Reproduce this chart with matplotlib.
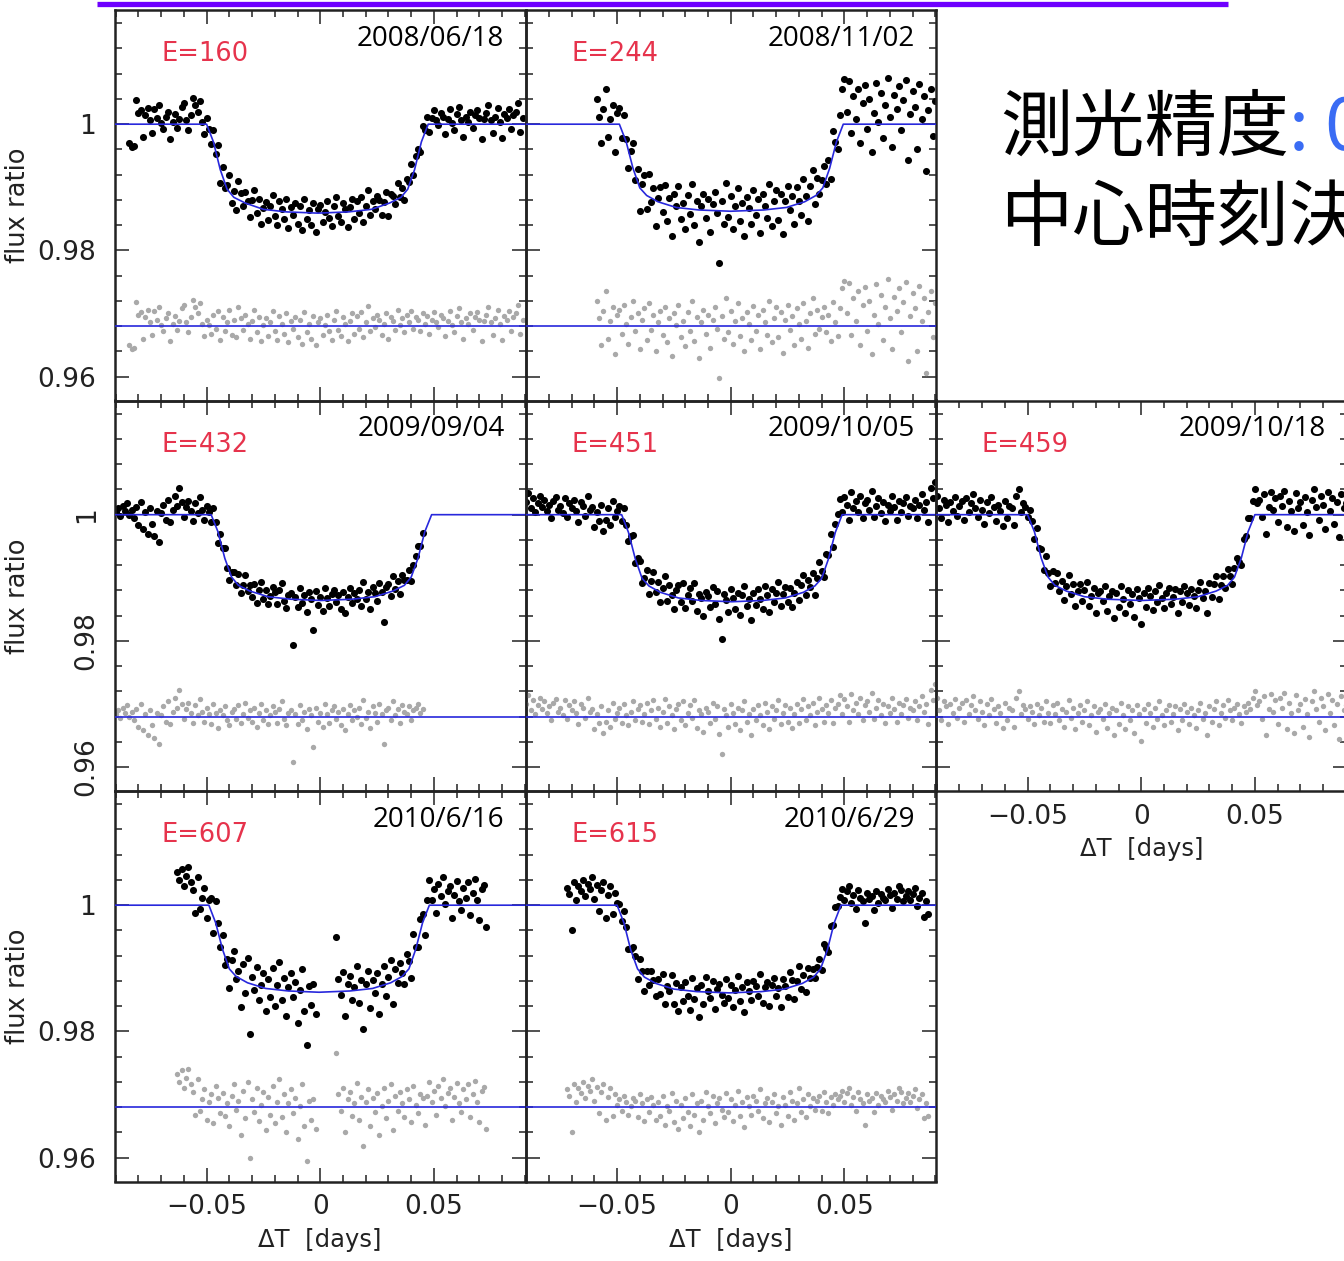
import matplotlib
matplotlib.use("Agg")
from matplotlib import pyplot as plt
from matplotlib.lines import Line2D
from matplotlib.ticker import FixedLocator, FuncFormatter, MultipleLocator
import numpy as np

plt.rcParams["font.family"] = ["DejaVu Sans"]

# Light curves: times in 1e-3 days from mid-transit, residuals in 1e-4 flux.
# The black points are model + residual, grey points are residual + 0.968.
RESID_LEVEL = 0.968

# E=160, 2008/06/18
P1_T = [-84, -83, -82, -81, -80, -79, -78, -77, -76, -75,
        -74, -73, -72, -71, -70, -69, -68, -67, -66, -65,
        -64, -63, -62, -61, -60, -59, -58, -57, -56, -55,
        -54, -53, -52, -51, -50, -49, -48, -47, -46, -45,
        -44, -43, -42, -41, -40, -39, -38, -37, -36, -35,
        -34, -33, -32, -31, -30, -29, -28, -27, -26, -25,
        -24, -23, -22, -21, -20, -19, -18, -17, -16, -15,
        -14, -13, -12, -11, -10, -9, -8, -7, -6, -5,
        -4, -3, -2, -1, 0, 1, 2, 3, 4, 5,
        6, 7, 8, 9, 10, 11, 12, 13, 14, 15,
        16, 17, 18, 19, 20, 21, 22, 23, 24, 25,
        26, 27, 28, 29, 30, 31, 32, 33, 34, 35,
        36, 37, 38, 39, 40, 41, 42, 43, 44, 45,
        46, 47, 48, 49, 50, 51, 52, 53, 54, 55,
        56, 57, 58, 59, 60, 61, 62, 63, 64, 65,
        66, 67, 68, 69, 70, 71, 72, 73, 74, 75,
        76, 77, 78, 79, 80, 81, 82, 83, 84, 85,
        86, 87, 88, 89]
P1_R = [-30, -36, -34, 38, 18, 22, -20, 14, 26, 6,
        -14, 24, 10, 30, 2, -8, 12, 20, -24, 4,
        16, -6, 8, 28, 34, 6, -10, 14, 42, 30,
        20, 36, 4, -16, 10, 2, -12, 18, -4, 24,
        -22, 14, -8, 6, 26, -14, 10, -18, 30, 12,
        -6, 18, 4, -20, 8, 26, -10, 14, -24, 2,
        12, -16, 6, 24, -8, -22, 16, 4, -12, 20,
        -26, 8, -4, 14, -18, 10, -28, 22, -10, 4,
        -20, 16, -30, 6, 12, -14, 2, 18, -8, -22,
        10, 24, -6, -16, 14, 4, -24, 8, 20, -12,
        16, -4, 22, -18, 6, 32, -8, 12, -2, 18,
        10, -14, 4, 20, -20, 14, 8, -6, 26, 2,
        12, -10, 18, 6, 24, -4, 14, 10, -8, 20,
        4, 16, -12, 10, 22, 6, -2, 18, 12, -16,
        8, 24, 2, -10, 16, 28, 6, -20, 12, 4,
        20, -6, 14, 22, 10, -24, 8, 18, 30, 6,
        -14, 12, 26, 4, -22, 16, 10, 24, -8, 14,
        20, 34, -12, 10]
P1_MT = [-91, -50, -47, -44, -41, -38, -33, -25, -15, -1,
         12.5, 22.5, 30.5, 35.5, 38.5, 41.5, 44.5, 47.5, 91]
P1_MF = [1.0, 1.0, 0.9972, 0.9928, 0.9897, 0.9884, 0.9875, 0.9865, 0.9861, 0.9859,
         0.9861, 0.9865, 0.9875, 0.9884, 0.9897, 0.9928, 0.9972, 1.0, 1.0]

# E=244, 2008/11/02
P2_T = [-59, -58, -57, -56, -55, -54, -53, -52, -51, -50,
        -49, -48, -47, -46, -45, -44, -43, -42, -41, -40,
        -39, -38, -37, -36, -35, -34, -33, -32, -31, -30,
        -29, -28, -27, -26, -25, -24, -23, -22, -21, -20,
        -19, -18, -17, -16, -15, -14, -13, -12, -11, -10,
        -9, -8, -7, -6, -5, -4, -3, -2, -1, 0,
        1, 2, 3, 4, 5, 6, 7, 8, 9, 10,
        11, 12, 13, 14, 15, 16, 17, 18, 19, 20,
        21, 22, 23, 24, 25, 26, 27, 28, 29, 30,
        31, 32, 33, 34, 35, 36, 37, 38, 39, 40,
        41, 42, 43, 44, 45, 46, 47, 48, 49, 50,
        51, 52, 53, 54, 55, 56, 57, 58, 59, 60,
        61, 62, 63, 64, 65, 66, 67, 68, 69, 70,
        71, 72, 73, 74, 75, 76, 77, 78, 79, 80,
        81, 82, 83, 84, 85, 86, 87, 88, 89, 90]
P2_R = [40, 12, -30, 24, 56, -20, 8, 30, -44, 18,
        26, -12, 34, 4, -28, 14, 40, -8, 20, -36,
        10, 28, -22, 36, -6, 18, -40, 6, 24, -14,
        30, -26, 12, -48, 20, 2, 34, -18, 8, -32,
        22, -8, 40, -24, 14, -50, 6, 26, -12, 18,
        -34, 10, 30, -4, -82, 16, -20, 44, -10, 24,
        -28, 8, 36, -16, 12, -40, 22, 4, -22, 32,
        -8, 18, -36, 26, 6, -14, 40, -26, 12, 30,
        -18, 22, -42, 10, 34, -6, 16, -30, 28, 4,
        -20, 36, 8, -34, 20, 44, -12, 26, -4, 14,
        30, -10, 18, -24, 38, 6, -16, 28, 60, 72,
        20, 68, -14, 44, 8, 56, -30, 34, 62, -8,
        40, -44, 18, 66, 4, 50, -22, 30, 74, 12,
        -36, 46, 24, 60, -10, 38, 70, -56, 16, 52,
        28, -40, 64, 8, 44, -74, 22, 56, -18, 36]
P2_MT = [-91, -49, -46, -43, -40, -37, -32, -24, -14, 0,
         14.5, 24.5, 32.5, 37.5, 40.5, 43.5, 46.5, 49.5, 91]
P2_MF = [1.0, 1.0, 0.9972, 0.9930, 0.9899, 0.9887, 0.9877, 0.9868, 0.9864, 0.9862,
         0.9864, 0.9868, 0.9877, 0.9887, 0.9899, 0.9930, 0.9972, 1.0, 1.0]

# E=432, 2009/09/04
P4_T = [-90, -89, -88, -87, -86, -85, -84, -83, -82, -81,
        -80, -79, -78, -77, -76, -75, -74, -73, -72, -71,
        -70, -69, -68, -67, -66, -65, -64, -63, -62, -61,
        -60, -59, -58, -57, -56, -55, -54, -53, -52, -51,
        -50, -49, -48, -47, -46, -45, -44, -43, -42, -41,
        -40, -39, -38, -37, -36, -35, -34, -33, -32, -31,
        -30, -29, -28, -27, -26, -25, -24, -23, -22, -21,
        -20, -19, -18, -17, -16, -15, -14, -13, -12, -11,
        -10, -9, -8, -7, -6, -5, -4, -3, -2, -1,
        0, 1, 2, 3, 4, 5, 6, 7, 8, 9,
        10, 11, 12, 13, 14, 15, 16, 17, 18, 19,
        20, 21, 22, 23, 24, 25, 26, 27, 28, 29,
        30, 31, 32, 33, 34, 35, 36, 37, 38, 39,
        40, 41, 42, 43, 44, 45]
P4_R = [4, 10, -2, 14, 6, 18, 0, 8, -6, 12,
        -16, 20, -22, 4, -30, 10, -14, -34, 6, -44,
        2, 16, -8, 24, -12, 8, 30, 14, 42, 20,
        -4, 12, 22, 6, -10, 18, 2, 28, 8, -8,
        14, 4, -12, 20, 6, -18, 10, 2, 16, -6,
        -14, 8, 12, -4, 18, -10, 4, 22, -2, 10,
        -8, 14, -16, 6, 20, -6, 10, -12, 2, 16,
        8, -10, 12, 24, -4, -14, 6, 10, -72, 4,
        -12, 18, -6, 8, -20, 12, 2, -48, 14, -8,
        6, -16, 20, 4, -10, 10, 16, -4, 8, -14,
        12, -22, 4, 18, -6, 10, 0, 14, -12, 26,
        -2, 8, -18, 16, 6, -8, 20, 4, -44, 10,
        14, -6, 24, 2, 12, -10, 18, 8, 4, 16,
        -6, 10, 14, 20, 6, 12]
P4_MT = [-91, -48, -45, -42, -39, -36, -31, -23, -13, 0.5,
         14, 24, 32, 37, 40, 43, 46, 49, 91]
P4_MF = [1.0, 1.0, 0.9973, 0.9931, 0.9901, 0.9888, 0.9879, 0.9870, 0.9866, 0.9864,
         0.9866, 0.9870, 0.9879, 0.9888, 0.9901, 0.9931, 0.9973, 1.0, 1.0]

# E=451, 2009/10/05
P5_T = [-90, -89, -88, -87, -86, -85, -84, -83, -82, -81,
        -80, -79, -78, -77, -76, -75, -74, -73, -72, -71,
        -70, -69, -68, -67, -66, -65, -64, -63, -62, -61,
        -60, -59, -58, -57, -56, -55, -54, -53, -52, -51,
        -50, -49, -48, -47, -46, -45, -44, -43, -42, -41,
        -40, -39, -38, -37, -36, -35, -34, -33, -32, -31,
        -30, -29, -28, -27, -26, -25, -24, -23, -22, -21,
        -20, -19, -18, -17, -16, -15, -14, -13, -12, -11,
        -10, -9, -8, -7, -6, -5, -4, -3, -2, -1,
        0, 1, 2, 3, 4, 5, 6, 7, 8, 9,
        10, 11, 12, 13, 14, 15, 16, 17, 18, 19,
        20, 21, 22, 23, 24, 25, 26, 27, 28, 29,
        30, 31, 32, 33, 34, 35, 36, 37, 38, 39,
        40, 41, 42, 43, 44, 45, 46, 47, 48, 49,
        50, 51, 52, 53, 54, 55, 56, 57, 58, 59,
        60, 61, 62, 63, 64, 65, 66, 67, 68, 69,
        70, 71, 72, 73, 74, 75, 76, 77, 78, 79,
        80, 81, 82, 83, 84, 85, 86, 87, 88, 89,
        90]
P5_R = [20, 34, 10, 26, 4, 18, 30, 12, 24, 6,
        16, -6, 22, 28, 8, 14, 2, 26, -4, 18,
        10, 24, 6, -12, 20, 14, -2, 30, 8, 12,
        -20, 4, -10, 16, -26, -8, 10, -16, 22, -4,
        6, 14, -10, 20, 2, -14, 8, 24, -6, 12,
        18, -8, 4, 22, -12, 10, 26, -4, 14, -16,
        8, 28, -10, 16, 2, -20, 12, 20, -6, 24,
        -14, 6, 18, -2, 26, -18, 10, 4, -24, 14,
        8, -10, 22, -4, 16, -28, -60, 12, 2, -16,
        20, 6, -12, 14, -22, 10, 24, -8, 4, -30,
        12, -6, 18, 2, -14, 22, 8, -20, 16, -4,
        10, 26, -12, 6, 18, -8, 14, -18, 4, 20,
        -10, 12, 28, -6, 16, 2, 22, -14, 8, 30,
        12, -8, 18, 6, 26, -10, 14, 20, 34, 4,
        28, 16, -8, 36, 10, 22, 4, 30, -6, 18,
        24, 8, 38, -4, 14, 26, 2, 20, -10, 16,
        6, 30, 12, -8, 22, 4, 18, 28, -2, 14,
        10, 24, -6, 16, 32, 8, 20, -12, 42, 26,
        52]
P5_MT = [-91, -48, -45, -42, -39, -36, -31, -23, -13, 0.5,
         14, 24, 32, 37, 40, 43, 46, 49, 91]
P5_MF = [1.0, 1.0, 0.9972, 0.9930, 0.9899, 0.9887, 0.9877, 0.9868, 0.9864, 0.9862,
         0.9864, 0.9868, 0.9877, 0.9887, 0.9899, 0.9930, 0.9972, 1.0, 1.0]

# E=459, 2009/10/18
P6_T = list(P5_T)
P6_R = [30, 10, -6, 24, 16, -12, 20, 6, 28, -2,
        14, 22, -8, 26, 4, 18, 32, 10, -4, 24,
        8, -14, 20, 2, 28, 12, -10, 16, 6, -18,
        22, -6, 14, 10, -16, 30, 40, 4, 18, 12,
        -4, 16, 8, -12, 20, 2, 14, -8, 24, 6,
        -10, 18, 4, 22, -6, 12, -16, 8, 26, -2,
        14, -20, 6, 18, -8, 10, 24, -14, 2, 16,
        -24, 8, 12, -4, 20, -18, 6, 14, -30, 10,
        -12, 22, 2, -20, 16, -6, 10, -26, 18, 4,
        -38, 12, -10, 20, 6, -16, 14, -4, 24, 2,
        -14, 10, 18, -8, 4, 16, -22, 12, -6, 20,
        8, -12, 14, 2, -18, 10, 22, -4, 6, -30,
        16, -8, 12, 24, -14, 6, 18, -2, 26, 10,
        -6, 14, 20, 4, -10, 16, 8, 22, 12, 30,
        40, 18, 24, -4, 32, -30, 12, 36, 8, 26,
        -12, 30, 14, 38, -20, 22, 6, -26, 34, 10,
        20, -16, 28, 4, -32, 24, 40, 12, -8, 30,
        16, -22, 36, 6, 26, -14, 20, -36, 32, 10,
        18]
P6_MT = [-91, -50, -47, -44, -41, -38, -33, -25, -15, 0,
         15, 25, 33, 38, 41, 44, 47, 50, 91]
P6_MF = [1.0, 1.0, 0.9973, 0.9931, 0.9901, 0.9888, 0.9879, 0.9870, 0.9866, 0.9864,
         0.9866, 0.9870, 0.9879, 0.9888, 0.9901, 0.9931, 0.9973, 1.0, 1.0]

# E=607, 2010/6/16 (gap in the middle of the night)
P7_T = [-63, -62, -61, -60, -59, -58, -57, -56, -55, -54,
        -53, -52, -51, -50, -49, -48, -47, -46, -45, -44,
        -43, -42, -41, -40, -39, -38, -37, -36, -35, -34,
        -33, -32, -31, -30, -29, -28, -27, -26, -25, -24,
        -23, -22, -21, -20, -19, -18, -17, -16, -15, -14,
        -13, -12, -11, -10, -9, -8, -7, -6, -5, -4,
        -3, -2,
        7, 8, 9, 10, 11, 12, 13, 14, 15, 16,
        17, 18, 19, 20, 21, 22, 23, 24, 25, 26,
        27, 28, 29, 30, 31, 32, 33, 34, 35, 36,
        37, 38, 39, 40, 41, 42, 43, 44, 45, 46,
        47, 48, 49, 50, 51, 52, 53, 54, 55, 56,
        57, 58, 59, 60, 61, 62, 63, 64, 65, 66,
        67, 68, 69, 70, 71, 72, 73]
P7_R = [52, 40, 58, 30, 46, 60, 36, 24, -12, 44,
        -6, 12, 28, -20, 8, 20, -26, 34, 14, -10,
        22, -14, 6, -30, 18, 36, -4, 10, -44, 26,
        -18, 40, -80, 12, -8, 30, -22, 4, 24, -36,
        16, -12, 34, -26, 8, 44, -16, 20, -40, 6,
        28, -10, 14, -50, 2, 36, -30, -85, 10, -20,
        12, -34,
        86, 20, -6, 30, -40, 12, 24, -14, 6, 38,
        -20, 16, -62, 8, 28, -30, 14, -8, 22, -44,
        2, 30, -18, 10, 36, -36, 18, -6, 24, 6,
        -16, 28, 12, -24, 34, 4, -10, 20, 14, -28,
        18, 40, 8, 26, -12, 34, 14, 44, 2, 22,
        30, -20, 16, 38, 6, -8, 28, 12, 36, -16,
        20, 42, 8, -24, 26, 32, -34]
P7_MT = [-91, -49, -46, -43, -40, -37, -32, -24, -14, -0.5,
         13, 23, 31, 36, 39, 42, 45, 48, 91]
P7_MF = [1.0, 1.0, 0.9972, 0.9930, 0.9899, 0.9887, 0.9877, 0.9868, 0.9864, 0.9862,
         0.9864, 0.9868, 0.9877, 0.9887, 0.9899, 0.9930, 0.9972, 1.0, 1.0]

# E=615, 2010/6/29
P8_T = [-72, -71, -70, -69, -68, -67, -66, -65, -64, -63,
        -62, -61, -60, -59, -58, -57, -56, -55, -54, -53,
        -52, -51, -50, -49, -48, -47, -46, -45, -44, -43,
        -42, -41, -40, -39, -38, -37, -36, -35, -34, -33,
        -32, -31, -30, -29, -28, -27, -26, -25, -24, -23,
        -22, -21, -20, -19, -18, -17, -16, -15, -14, -13,
        -12, -11, -10, -9, -8, -7, -6, -5, -4, -3,
        -2, -1, 0, 1, 2, 3, 4, 5, 6, 7,
        8, 9, 10, 11, 12, 13, 14, 15, 16, 17,
        18, 19, 20, 21, 22, 23, 24, 25, 26, 27,
        28, 29, 30, 31, 32, 33, 34, 35, 36, 37,
        38, 39, 40, 41, 42, 43, 44, 45, 46, 47,
        48, 49, 50, 51, 52, 53, 54, 55, 56, 57,
        58, 59, 60, 61, 62, 63, 64, 65, 66, 67,
        68, 69, 70, 71, 72, 73, 74, 75, 76, 77,
        78, 79, 80, 81, 82, 83, 84, 85, 86, 87]
P8_R = [28, 18, -40, 36, 8, 30, 22, 40, 14, 34,
        26, 44, 10, 32, -10, 24, 36, -20, 16, 30,
        -14, 20, 4, 12, -6, 18, 8, -12, 2, 14,
        10, -16, 20, 6, -22, 12, -8, 16, 4, -20,
        8, -14, 18, -28, 2, -6, 22, -24, 10, -34,
        4, -18, 14, -8, -30, 20, -12, 6, -40, 10,
        -20, 24, 2, -10, 18, -26, 6, 14, -4, -16,
        22, -8, 12, -22, 4, 26, -14, 8, -32, 16,
        2, -12, 18, 10, -6, 28, -18, 6, 14, -24,
        8, 20, -10, 2, -28, 16, 4, -14, 24, 10,
        -20, 6, 30, -8, 12, -16, 20, 2, 14, -4,
        10, 18, -6, 24, 8, -10, 16, 4, 20, 12,
        18, 26, 8, 22, 30, 4, 16, -6, 24, 12,
        6, -28, 20, 10, 14, -8, 22, 4, 18, 12,
        8, 26, 16, -4, 20, 10, 30, 24, 6, 14,
        22, 8, 18, 28, -2, 12, 20, -18, 6, -14]
P8_MT = [-91, -50, -47, -44, -41, -38, -33, -25, -15, -0.75,
         13.5, 23.5, 31.5, 36.5, 39.5, 42.5, 45.5, 48.5, 91]
P8_MF = [1.0, 1.0, 0.9972, 0.9929, 0.9899, 0.9886, 0.9876, 0.9867, 0.9863, 0.9861,
         0.9863, 0.9867, 0.9876, 0.9886, 0.9899, 0.9929, 0.9972, 1.0, 1.0]

EPOCHS = ["E=160", "E=244", "E=432", "E=451", "E=459", "E=607", "E=615"]
DATES = ["2008/06/18", "2008/11/02", "2009/09/04", "2009/10/05",
         "2009/10/18", "2010/6/16", "2010/6/29"]
GRID_POS = [(0, 0), (0, 1), (1, 0), (1, 1), (1, 2), (2, 0), (2, 1)]
CURVES = [(P1_T, P1_R, P1_MT, P1_MF), (P2_T, P2_R, P2_MT, P2_MF),
          (P4_T, P4_R, P4_MT, P4_MF), (P5_T, P5_R, P5_MT, P5_MF),
          (P6_T, P6_R, P6_MT, P6_MF), (P7_T, P7_R, P7_MT, P7_MF),
          (P8_T, P8_R, P8_MT, P8_MF)]

TITLE_LINE1 = "測光精度"
TITLE_LINE1_TAIL = ": 0"
TITLE_LINE2 = "中心時刻決"

# layout in pixels
W, H = 1344, 1261
LEFT, TOP, PW, PH = 115, 10, 410.5, 390.5
BLUE = "#2828dc"
RED = "#e6334c"
INK = "#222222"
JP_FONT = ["Noto Sans CJK JP", "DejaVu Sans"]


def fmt_tick(v, _pos):
    return f"{v:g}".replace("-", "\u2212")


fig = plt.figure(figsize=(W / 100, H / 100), dpi=100)
fig.patch.set_facecolor("white")

for (row, col), epoch, date, (t_ms, r_e4, mt_ms, mf) in zip(GRID_POS, EPOCHS, DATES, CURVES):
    ax = fig.add_axes([(LEFT + col * PW) / W, 1 - (TOP + (row + 1) * PH) / H, PW / W, PH / H])
    ax.patch.set_visible(False)

    n = min(len(t_ms), len(r_e4))
    t = np.asarray(t_ms[:n], dtype=float) * 1e-3
    res = np.asarray(r_e4[:n], dtype=float) * 1e-4
    mt = np.asarray(mt_ms, dtype=float) * 1e-3
    mf = np.asarray(mf, dtype=float)
    flux = np.interp(t, mt, mf) + res

    ax.scatter(t, flux, s=26, c="black", linewidths=0, zorder=2)
    ax.scatter(t, RESID_LEVEL + res, s=15, c="#a9a9a9", linewidths=0, zorder=2)
    ax.plot(mt, mf, color=BLUE, lw=1.2, zorder=3)
    ax.axhline(RESID_LEVEL, color=BLUE, lw=1.2, zorder=3)

    ax.set_xlim(-0.0903, 0.0903)
    ax.set_ylim(0.9562, 1.0181)
    ax.xaxis.set_major_locator(FixedLocator([-0.05, 0.0, 0.05]))
    ax.xaxis.set_minor_locator(MultipleLocator(0.01))
    ax.yaxis.set_major_locator(FixedLocator([0.96, 0.98, 1.0]))
    ax.yaxis.set_minor_locator(MultipleLocator(0.004))
    ax.xaxis.set_major_formatter(FuncFormatter(fmt_tick))
    ax.yaxis.set_major_formatter(FuncFormatter(fmt_tick))

    ax.tick_params(which="both", direction="in", top=True, right=True,
                   color=INK, labelcolor=INK, width=1.1, labelsize=19)
    ax.tick_params(which="major", length=10)
    ax.tick_params(which="minor", length=5)
    for spine in ax.spines.values():
        spine.set_linewidth(1.8)
        spine.set_color(INK)

    show_x = row == 2 or (row, col) == (1, 2)
    ax.tick_params(axis="x", labelbottom=show_x, pad=9)
    if show_x:
        ax.set_xlabel("\u0394T  [days]", fontsize=17.5, color=INK)
        ax.xaxis.label.set_va("center")
        ax.xaxis.set_label_coords(0.5, -58 / PH)

    if col == 0:
        ax.set_ylabel("flux ratio", fontsize=18.5, color=INK)
        ax.yaxis.label.set_va("center")
        ax.yaxis.set_label_coords(-(LEFT - 18) / PW, 0.5)
        if row == 1:
            ax.tick_params(axis="y", pad=11)
            for lab in ax.get_yticklabels():
                lab.set_rotation(90)
                lab.set_va("center")
        else:
            ax.tick_params(axis="y", pad=14)
    else:
        ax.tick_params(axis="y", labelleft=False)

    ax.text(46 / PW, 1 - 44 / PH, epoch, transform=ax.transAxes, color=RED,
            fontsize=18.5, ha="left", va="center")
    ax.text(1 - 21 / PW, 1 - 29 / PH, date, transform=ax.transAxes, color="black",
            fontsize=20, family=["Open Sans", "DejaVu Sans"], ha="right", va="center")

# rule across the top of the slide
fig.add_artist(Line2D([97 / W, 1228 / W], [1 - 4 / H, 1 - 4 / H], transform=fig.transFigure,
                      color="#6e00ff", lw=3.8, solid_capstyle="butt"))

line1 = fig.text(1000 / W, 1 - 150 / H, TITLE_LINE1, fontsize=52, family=JP_FONT,
                 color="black", ha="left", va="baseline")
fig.text(1000 / W, 1 - 240 / H, TITLE_LINE2, fontsize=52, family=JP_FONT,
         color="black", ha="left", va="baseline")
fig.canvas.draw()
bb = line1.get_window_extent()
fig.text(bb.x1 / W, 1 - 150 / H, TITLE_LINE1_TAIL, fontsize=52, family=JP_FONT,
         color="#3a6cf4", ha="left", va="baseline")

fig.savefig("out.png", dpi=100)
plt.close(fig)
